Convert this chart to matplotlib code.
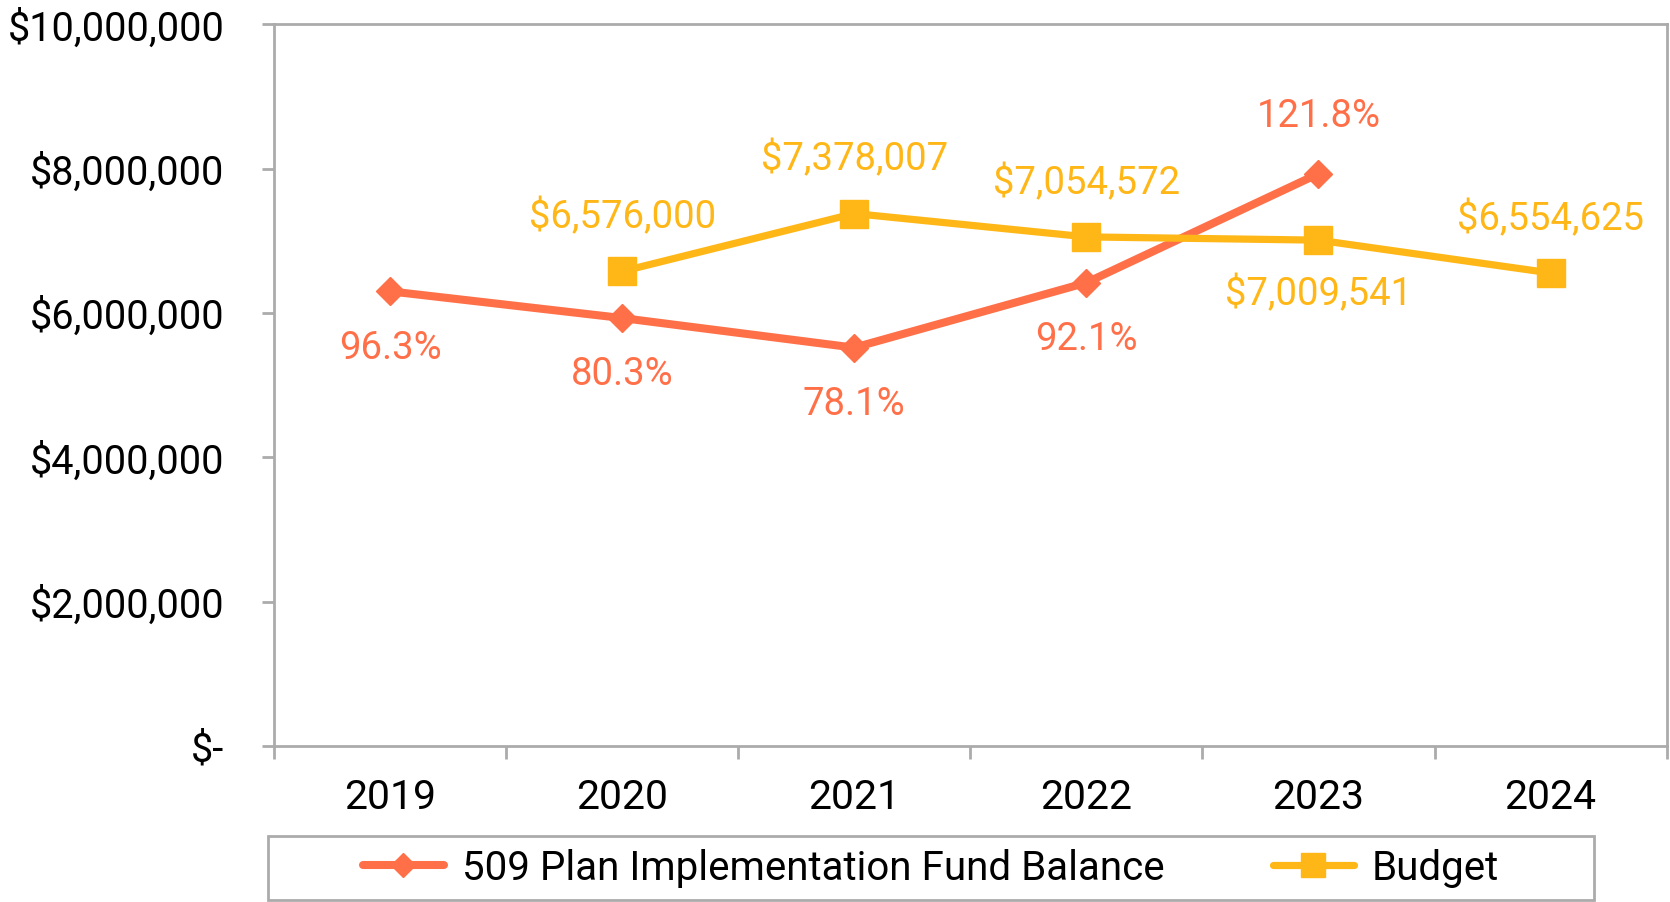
import numpy as np
import matplotlib
matplotlib.use("Agg")
import matplotlib.pyplot as plt
from matplotlib.patches import Rectangle
from matplotlib.ticker import FixedLocator, NullFormatter

# ==========================================================
# Data
# ==========================================================

years = ['2019', '2020', '2021', '2022', '2023', '2024']

fund_balance = [6300000, 5930000, 5520000, 6420000, 7930000, np.nan]
fund_pct = ['96.3%', '80.3%', '78.1%', '92.1%', '121.8%', '']

budget = [np.nan, 6576000, 7378007, 7054572, 7009541, 6554625]
budget_lbl = ['', '$6,576,000', '$7,378,007', '$7,054,572', '$7,009,541', '$6,554,625']

# label side: +1 above, -1 below
fund_side = [-1, -1, -1, -1, 1, -1]
budget_side = [1, 1, 1, 1, -1, 1]

fund_color = '#FF7049'
budget_color = '#FFB718'
axis_gray = '#ABABAB'

plt.rcParams['font.family'] = ['Roboto', 'DejaVu Sans']
plt.rcParams['font.size'] = 27

# ==========================================================
# Figure
# ==========================================================

fig = plt.figure(figsize=(16.7, 9.02), dpi=100)
ax = fig.add_axes([0.164, 0.173, 0.834, 0.800])

x = np.arange(len(years))

l1, = ax.plot(x, fund_balance, color=fund_color, lw=5.8, marker='D',
              ms=14, solid_capstyle='round', label='509 Plan Implementation Fund Balance')
l2, = ax.plot(x, budget, color=budget_color, lw=5.2, marker='s',
              ms=19.5, solid_capstyle='round', label='Budget')

for i in range(len(years)):
    if not np.isnan(fund_balance[i]):
        ax.annotate(fund_pct[i], (x[i], fund_balance[i]),
                    xytext=(0, 41 * fund_side[i]), textcoords='offset points',
                    ha='center', va='center', color=fund_color, fontsize=27.5)
    if not np.isnan(budget[i]):
        ax.annotate(budget_lbl[i], (x[i], budget[i]),
                    xytext=(0, 39 * budget_side[i]), textcoords='offset points',
                    ha='center', va='center', color=budget_color, fontsize=27.5)

# ==========================================================
# Axes
# ==========================================================

ax.set_xlim(-0.5, len(years) - 0.5)
ax.set_ylim(0, 10000000)

ax.xaxis.set_major_locator(FixedLocator(np.arange(-0.5, len(years), 1.0)))
ax.xaxis.set_major_formatter(NullFormatter())
ax.xaxis.set_minor_locator(FixedLocator(x))
ax.set_xticklabels(years, minor=True)
ax.tick_params(axis='x', which='major', length=9.5, width=2, color=axis_gray)
ax.tick_params(axis='x', which='minor', length=0, pad=23, labelsize=29.5)

yt = np.arange(0, 10000001, 2000000)
ax.set_yticks(yt)
ax.set_yticklabels(['$-'] + ['${:,.0f}'.format(v) for v in yt[1:]])
ax.tick_params(axis='y', length=8.5, width=2, color=axis_gray, pad=27, labelsize=28.5)

for s in ax.spines.values():
    s.set_color(axis_gray)
    s.set_linewidth(2)

# ==========================================================
# Legend
# ==========================================================

fig.patches.append(Rectangle((268 / 1670, 2 / 902), 1326 / 1670, 64 / 902,
                             transform=fig.transFigure, fill=False,
                             edgecolor=axis_gray, lw=2))

fig.legend(handles=[l1, l2], loc='center', bbox_to_anchor=(931 / 1670, 1 - 868 / 902),
           ncol=2, frameon=False, fontsize=29, handlelength=2.0,
           handletextpad=0.45, columnspacing=2.7, markerscale=0.85)

fig.savefig('out.png', dpi=100)
